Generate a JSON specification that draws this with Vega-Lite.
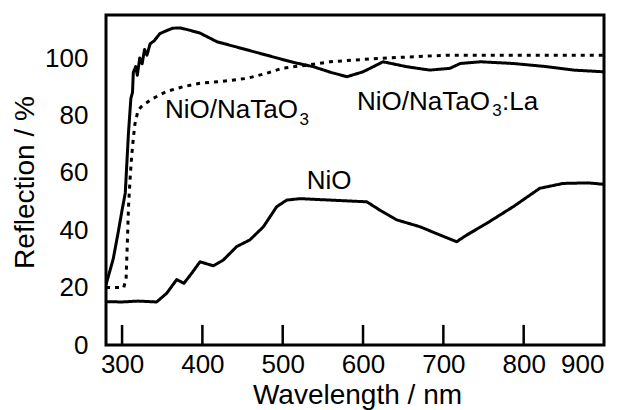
{
  "$schema": "https://vega.github.io/schema/vega-lite/v6.json",
  "width": 498,
  "height": 330,
  "autosize": {"type": "none"},
  "padding": {"left": 106, "top": 15, "right": 25, "bottom": 65},
  "background": "white",
  "config": {
    "view": {"stroke": "black", "strokeWidth": 3},
    "font": "Liberation Sans",
    "scale": {"continuousPadding": 0},
    "axis": {"domain": false, "grid": false, "ticks": false, "tickSize": 0, "labelColor": "black", "titleColor": "black", "labelFont": "Liberation Sans", "titleFont": "Liberation Sans", "labelFontSize": 26, "titleFontSize": 28, "titleFontWeight": "normal"}
  },
  "datasets": {
    "curves": [
      {"series": "La", "wl": 280, "r": 21},
      {"series": "La", "wl": 284, "r": 25},
      {"series": "La", "wl": 289, "r": 30},
      {"series": "La", "wl": 295, "r": 39},
      {"series": "La", "wl": 300, "r": 47},
      {"series": "La", "wl": 304, "r": 53},
      {"series": "La", "wl": 308, "r": 74},
      {"series": "La", "wl": 311, "r": 86},
      {"series": "La", "wl": 313, "r": 88},
      {"series": "La", "wl": 314, "r": 95},
      {"series": "La", "wl": 317, "r": 97},
      {"series": "La", "wl": 319, "r": 94},
      {"series": "La", "wl": 322, "r": 100},
      {"series": "La", "wl": 325, "r": 98},
      {"series": "La", "wl": 328, "r": 103},
      {"series": "La", "wl": 331, "r": 101},
      {"series": "La", "wl": 335, "r": 105},
      {"series": "La", "wl": 340, "r": 106},
      {"series": "La", "wl": 347, "r": 108.5},
      {"series": "La", "wl": 355, "r": 109.5},
      {"series": "La", "wl": 363, "r": 110.4},
      {"series": "La", "wl": 372, "r": 110.5},
      {"series": "La", "wl": 380, "r": 110},
      {"series": "La", "wl": 397, "r": 108.7},
      {"series": "La", "wl": 418, "r": 105.7},
      {"series": "La", "wl": 447, "r": 103.5},
      {"series": "La", "wl": 480, "r": 101},
      {"series": "La", "wl": 513, "r": 98.5},
      {"series": "La", "wl": 538, "r": 97},
      {"series": "La", "wl": 560, "r": 95},
      {"series": "La", "wl": 580, "r": 93.5},
      {"series": "La", "wl": 600, "r": 95.2},
      {"series": "La", "wl": 625, "r": 98.7},
      {"series": "La", "wl": 654, "r": 97},
      {"series": "La", "wl": 683, "r": 95.8},
      {"series": "La", "wl": 708, "r": 96.4},
      {"series": "La", "wl": 721, "r": 98.1},
      {"series": "La", "wl": 746, "r": 98.7},
      {"series": "La", "wl": 787, "r": 98.1},
      {"series": "La", "wl": 829, "r": 97},
      {"series": "La", "wl": 862, "r": 95.8},
      {"series": "La", "wl": 900, "r": 95.2},
      {"series": "Na", "wl": 280, "r": 20},
      {"series": "Na", "wl": 302, "r": 20},
      {"series": "Na", "wl": 305, "r": 23},
      {"series": "Na", "wl": 306.5, "r": 35},
      {"series": "Na", "wl": 308, "r": 48},
      {"series": "Na", "wl": 310, "r": 58},
      {"series": "Na", "wl": 312, "r": 66},
      {"series": "Na", "wl": 314, "r": 72},
      {"series": "Na", "wl": 316, "r": 77},
      {"series": "Na", "wl": 320, "r": 81.9},
      {"series": "Na", "wl": 326, "r": 83.6},
      {"series": "Na", "wl": 339, "r": 86},
      {"series": "Na", "wl": 355, "r": 88.3},
      {"series": "Na", "wl": 376, "r": 90},
      {"series": "Na", "wl": 397, "r": 91.2},
      {"series": "Na", "wl": 422, "r": 91.8},
      {"series": "Na", "wl": 455, "r": 92.9},
      {"series": "Na", "wl": 480, "r": 94.7},
      {"series": "Na", "wl": 500, "r": 96.5},
      {"series": "Na", "wl": 530, "r": 97.5},
      {"series": "Na", "wl": 559, "r": 98.7},
      {"series": "Na", "wl": 621, "r": 99.9},
      {"series": "Na", "wl": 704, "r": 101},
      {"series": "Na", "wl": 787, "r": 101},
      {"series": "Na", "wl": 900, "r": 101},
      {"series": "NiO", "wl": 280, "r": 15.1},
      {"series": "NiO", "wl": 300, "r": 15},
      {"series": "NiO", "wl": 320, "r": 15.3},
      {"series": "NiO", "wl": 343, "r": 15},
      {"series": "NiO", "wl": 355.5, "r": 18},
      {"series": "NiO", "wl": 368, "r": 22.8},
      {"series": "NiO", "wl": 377, "r": 21.5},
      {"series": "NiO", "wl": 386.7, "r": 25},
      {"series": "NiO", "wl": 397, "r": 29},
      {"series": "NiO", "wl": 413.6, "r": 27.6},
      {"series": "NiO", "wl": 426, "r": 29.6},
      {"series": "NiO", "wl": 442.7, "r": 34.3},
      {"series": "NiO", "wl": 459, "r": 36.6},
      {"series": "NiO", "wl": 476, "r": 41.2},
      {"series": "NiO", "wl": 492.5, "r": 48.2},
      {"series": "NiO", "wl": 505, "r": 50.5},
      {"series": "NiO", "wl": 521.5, "r": 51},
      {"series": "NiO", "wl": 559, "r": 50.5},
      {"series": "NiO", "wl": 604.6, "r": 49.9},
      {"series": "NiO", "wl": 621, "r": 47},
      {"series": "NiO", "wl": 642, "r": 43.6},
      {"series": "NiO", "wl": 671, "r": 41.2},
      {"series": "NiO", "wl": 696, "r": 38.3},
      {"series": "NiO", "wl": 716.6, "r": 36},
      {"series": "NiO", "wl": 729, "r": 38.3},
      {"series": "NiO", "wl": 754, "r": 42.4},
      {"series": "NiO", "wl": 787, "r": 48.2},
      {"series": "NiO", "wl": 820, "r": 54.6},
      {"series": "NiO", "wl": 849, "r": 56.3},
      {"series": "NiO", "wl": 880, "r": 56.5},
      {"series": "NiO", "wl": 900, "r": 56}
    ],
    "labels": [
      {"kind": "main", "wl": 353.5, "r": 79.1, "text": "NiO/NaTaO"},
      {"kind": "sub", "wl": 521, "r": 76.7, "text": "3"},
      {"kind": "main", "wl": 592.5, "r": 81.9, "text": "NiO/NaTaO"},
      {"kind": "sub", "wl": 761, "r": 79.8, "text": "3"},
      {"kind": "main", "wl": 773, "r": 81.9, "text": ":La"},
      {"kind": "main", "wl": 529.8, "r": 54.3, "text": "NiO"}
    ],
    "xticks": [{"wl": 300}, {"wl": 400}, {"wl": 500}, {"wl": 600}, {"wl": 700}, {"wl": 800}]
  },
  "layer": [
    {
      "data": {"name": "curves"},
      "mark": {"type": "line", "color": "black", "strokeWidth": 3, "strokeJoin": "round", "strokeCap": "butt", "clip": true},
      "encoding": {
        "x": {"field": "wl", "type": "quantitative", "scale": {"domain": [280, 900], "nice": false, "zero": false, "padding": 0}, "axis": {"values": [300, 400, 500, 600, 700, 800, 900], "labelPadding": 6, "title": "Wavelength / nm", "titleX": 251, "titleY": 58, "titleBaseline": "alphabetic", "titleAnchor": null, "titleAlign": "center"}},
        "y": {"field": "r", "type": "quantitative", "scale": {"domain": [0, 115], "nice": false, "zero": false, "padding": 0}, "axis": {"values": [0, 20, 40, 60, 80, 100], "labelPadding": 18, "title": "Reflection / %", "titleX": -73, "titleY": 167, "titleAngle": -90, "titleBaseline": "alphabetic", "titleAlign": "center"}},
        "detail": {"field": "series"},
        "strokeDash": {"field": "series", "type": "nominal", "scale": {"domain": ["La", "Na", "NiO"], "range": [[1, 0], [4, 5], [1, 0]]}, "legend": null}
      }
    },
    {
      "data": {"name": "xticks"},
      "mark": {"type": "bar", "color": "black", "width": 2.5},
      "encoding": {
        "x": {"field": "wl", "type": "quantitative"},
        "y": {"datum": 0},
        "y2": {"datum": 7}
      }
    },
    {
      "data": {"name": "labels"},
      "transform": [{"filter": "datum.kind === 'main'"}],
      "mark": {"type": "text", "align": "left", "baseline": "alphabetic", "fontSize": 26, "font": "Liberation Sans", "color": "black"},
      "encoding": {
        "x": {"field": "wl", "type": "quantitative"},
        "y": {"field": "r", "type": "quantitative"},
        "text": {"field": "text"}
      }
    },
    {
      "data": {"name": "labels"},
      "transform": [{"filter": "datum.kind === 'sub'"}],
      "mark": {"type": "text", "align": "left", "baseline": "alphabetic", "fontSize": 17, "font": "Liberation Sans", "color": "black"},
      "encoding": {
        "x": {"field": "wl", "type": "quantitative"},
        "y": {"field": "r", "type": "quantitative"},
        "text": {"field": "text"}
      }
    }
  ]
}
